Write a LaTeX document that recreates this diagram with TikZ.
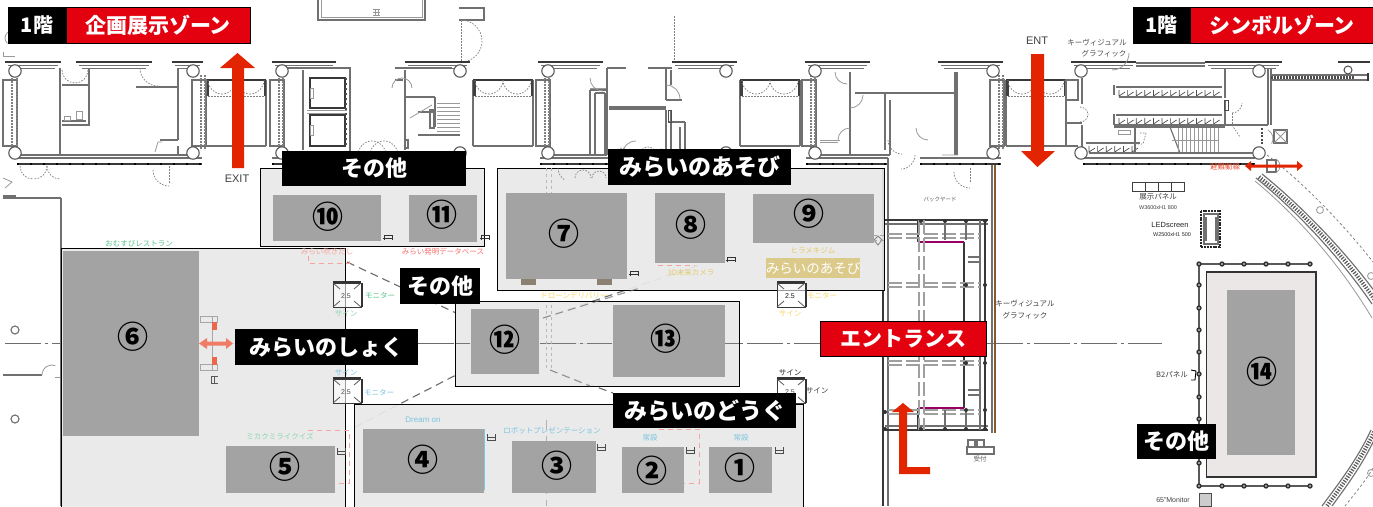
\documentclass[tikz,border=0pt]{standalone}
\usepackage{fontspec}
\newfontfamily\cjk{Noto Sans CJK JP}
\setmainfont{Liberation Sans}
\definecolor{zred}{HTML}{E3000F}
\definecolor{arr}{HTML}{E32400}
\definecolor{areaG}{HTML}{E9E9E9}
\definecolor{areaP}{HTML}{EBE7E6}
\definecolor{boxG}{HTML}{A3A3A3}
\definecolor{wallc}{HTML}{707070}
\definecolor{sgreen}{HTML}{58C48C}
\definecolor{sblue}{HTML}{7CC4E0}
\definecolor{syellow}{HTML}{F7D766}
\definecolor{sred}{HTML}{F4A5A0}
\tikzset{
 wl/.style={draw=wallc,line width=1.15pt},
 wd/.style={draw=wallc,line width=2.1pt},
 dk/.style={draw=black!78,line width=1.6pt},
 thn/.style={draw=gray!80,line width=0.8pt},
 dsh/.style={draw=gray,line width=0.7pt,dash pattern=on 1.6pt off 1.4pt},
 lng/.style={draw=gray!85!black,line width=1.1pt,dash pattern=on 8pt off 5pt},
 grd/.style={draw=gray!75,line width=1.4pt,dash pattern=on 14pt off 4pt},
 ctr/.style={draw=gray!85!black,line width=1pt,dash pattern=on 36pt off 4pt on 3pt off 4pt},
 lab/.style={fill=black,text=white,font=\cjk\bfseries\fontsize{22}{22}\selectfont,minimum height=36pt,anchor=center,inner sep=0pt,outer sep=0pt},
 num/.style={text=black,font=\cjk\bfseries\fontsize{31}{31}\selectfont,inner sep=0pt},
 area/.style={fill=areaG,fill opacity=.92,draw=black,line width=1pt},
 gbox/.style={fill=boxG,draw=none},
 tiny/.style={font=\cjk\fontsize{6.5}{7}\selectfont,inner sep=0pt},
 lbl/.style={font=\cjk\fontsize{7.5}{8}\selectfont,inner sep=0pt},
 redarrow/.style={draw=none,fill=arr},
}
\newcommand\Cap[2]{\draw[dk] (#1,62)--(#2,62); \draw[wl] (#1+3,65.5)--(#2-3,65.5);\draw[wl] (#1+6,68.5)--(#2-6,68.5);}
\newcommand\Col[2]{\draw[draw=black!65,fill=white,line width=1.1pt] (#1,#2) circle (6.2);}
\newcommand\Bay[1]{
 \draw[wd] (#1,80)--(#1,146); \draw[wd] (#1+60,80)--(#1+60,146);
 \draw[dk] (#1,80)--(#1+60,80); \draw[wl] (#1,146)--(#1+60,146);
 \fill[black!75] (#1,80) rectangle (#1+2.5,96); \fill[black!75] (#1+57.5,80) rectangle (#1+60,96);
 \draw[dsh] (#1+2,80) arc (180:90:14); \draw[dsh] (#1+30,80) arc (0:90:14);
 \draw[dsh] (#1+30,80) arc (180:90:14); \draw[dsh] (#1+58,80) arc (0:90:14);
 \draw[dsh] (#1+2,96)--(#1+58,96);
}
\newcommand\Band[1]{
 \draw[wl] (#1,80) rectangle (#1+14,146);
 \draw[dsh,line width=1.4pt] (#1+9,75)--(#1+9,150);
 \draw[dsh,line width=1.4pt] (#1+13,75)--(#1+13,150);
}
\newcommand\Low[2]{\draw[dk,line width=1.9pt] (#1,164)--(#2,164); \draw[wl] (#1,158)--(#2,158);
 \draw[black,line width=2.8pt,dash pattern=on 2pt off 11pt] (#1,164)--(#2,164);}
\newcommand\Chair[2]{\draw[gray!40!black,line width=.8pt] (#1-4,#2+3)--(#1-4,#2-2)--(#1+4,#2-2)--(#1+4,#2+3);\draw[gray!40!black,line width=.8pt] (#1-5,#2+1)--(#1+5,#2+1);}
\newcommand\Basket[2]{\draw[gray!60!black,line width=.9pt] (#1-4,#2-3)--(#1-4,#2+3)--(#1+4,#2+3)--(#1+4,#2-3);\draw[gray!60!black,line width=.9pt] (#1-4,#2)--(#1+4,#2);}
\newcommand\Sign[2]{
 \draw[draw=gray!45!black,fill=white,fill opacity=.6,line width=1pt] (#1-14,#2-12) rectangle (#1+14,#2+12);
 \draw[gray!70!black,line width=.8pt] (#1-14,#2-12)--(#1-7,#2-6) (#1+14,#2-12)--(#1+7,#2-6) (#1-14,#2+12)--(#1-7,#2+6) (#1+14,#2+12)--(#1+7,#2+6);
 \draw[black!80,line width=1.2pt] (#1+15,#2-12)--(#1+15,#2+12) (#1-14,#2-13)--(#1+14,#2-13);
}
\newcommand\Locker[3]{\foreach \i in {0,...,#3}{\draw[gray!60!black,line width=.7pt] (#1+\i*8.6,#2)--(#1+\i*8.6,#2+6)--(#1+\i*8.6+6,#2+2);}
 \draw[wd,line width=1.4pt] (#1-3,#2-3)--(#1+#3*8.6+8,#2-3); \draw[wl] (#1,#2+7)--(#1+#3*8.6+8,#2+7);}
\begin{document}
\begin{tikzpicture}[x=1pt,y=-1pt]
\useasboundingbox (0,0) rectangle (1373,506);
\fill[white] (0,0) rectangle (1373,506);
\begin{scope}
\clip (0,0) rectangle (1373,506);
% ---- top fragments
\draw[wl] (318,0)--(318,20)--(425,20)--(425,0);
\draw[thn] (321,0)--(321,17)--(422,17)--(422,0);
\draw[thn,step=3pt] (373,9) grid (380,15);
\draw[wl] (459,8)--(484,8)--(484,20)--(459,20);
\draw[dsh] (461,20)--(461,62);
\draw[dsh] (461,20) arc (-90:90:21);
\draw[dsh] (674,16)--(674,62);
\draw[thn] (12,31) arc (-90:-230:7); \draw[thn] (3,52)--(3,56)--(15,56);
% ---- capitals
\Cap{5}{61}\Cap{76}{152}\Cap{172}{203}\Cap{272}{336}\Cap{405}{470}\Cap{538}{603}\Cap{672}{737}\Cap{805}{870}\Cap{938}{1003}\Cap{1071}{1136}\Cap{1205}{1282}
\draw[dk] (1338,62)--(1370,62);
\draw[wl] (1136,63)--(1205,63); \draw[wl] (1136,66)--(1205,66);
% ---- bays
\Bay{206}\Bay{473}\Bay{740}\Bay{1006}
\Band{192}\Band{270}\Band{536}\Band{802}\Band{990}
\draw[wl] (3,80) rectangle (17,146);
\draw[dsh,line width=1.4pt] (12,75)--(12,150); \draw[dsh,line width=1.4pt] (17,75)--(17,150);
% ---- lower walls
\Low{17}{202}\Low{272}{282}\Low{540}{610}\Low{806}{888}\Low{920}{1001}\Low{1083}{1255}
\draw[wd] (15,155)--(193,155);
\draw[wd] (60,68)--(60,155);
\draw[wl] (62,85)--(89,85) (89,68)--(89,125)--(62,125) (62,121)--(86,121);
\draw[wl] (136,87)--(178,87); \draw[wd] (178,68)--(178,140);
\draw[wl] (160,140)--(178,140) (178,146)--(178,155);
\draw[dsh] (62,70) arc (180:90:13); \draw[dsh] (88,70) arc (0:90:13);
\draw[dsh] (140,68) arc (180:90:18);
\draw[thn] (64,116) rectangle (70,120); \draw[thn] (76,111) rectangle (82,119);
\draw[thn] (155,152)--(158,142)--(162,142);
\draw[dsh] (20,166) arc (180:90:13); \draw[dsh] (47,166) arc (0:90:13); \draw[dsh] (47,166) arc (180:90:13);
\draw[dsh] (153,170) arc (180:90:16); \draw[dsh] (169,166)--(169,183);
\draw[thn] (3,178)--(12,182)--(5,188);
\draw[wd] (3,198)--(61,198); \draw[wd] (61,198)--(61,506);
\draw[wl] (3,196)--(16,196);
% ---- elevators
\draw[wl] (282,68)--(350,68)--(350,152);
\draw[wl] (303,70)--(303,150);
\draw[dk] (310,78) rectangle (345,108); \draw[dk] (310,115) rectangle (345,146);
\draw[thn] (307,110)--(347,110) (307,113)--(347,113);
\draw[thn] (310,88) rectangle (313,98); \draw[thn] (310,125) rectangle (313,135);
\draw[black!70,line width=1.2pt,dash pattern=on 2pt off 3pt] (346,78)--(346,146);
\draw[dsh] (358,155) arc (180:360:14); \draw[dsh] (370,155) arc (180:360:14);
% ---- stairs
\draw[wl] (395,68)--(452,68) (405,70)--(405,150) (395,80)--(403,80);
\draw[thn] (392,88) arc (180:360:10);
\draw[wl] (405,97)--(435,97) (435,97)--(435,127) (418,135)--(460,135) (418,112)--(435,112);
\foreach \yy in {103,107,...,131}{\draw[thn] (437,\yy)--(460,\yy);}
\draw[thn] (410,118)--(432,105); \draw[wl] (430,110) rectangle (434,128);
\draw[wl] (405,140) rectangle (408,148);
% ---- room 548-670
\draw[wl] (550,155)--(607,155) (590,90)--(607,90) (590,90)--(590,155) (595,93)--(605,93) (595,93)--(595,155) (605,93)--(605,155);
\draw[wd] (607,68)--(607,155);
\draw[wl] (607,68)--(626,68) (648,68)--(672,68);
\draw[thn] (590,78) arc (180:90:13);
\draw[thn] (590,88)--(606,88);
\draw[wl] (609,107)--(666,107) (609,109)--(666,109);
\draw[wl] (666,68)--(666,100) (671,70)--(671,85) (666,110)--(666,150) (671,110)--(671,150);
\draw[wl] (666,100)--(682,100) (668,122)--(685,122) (685,122)--(685,150) (680,127)--(680,150);
\draw[thn] (666,85) arc (-90:0:14);
\draw[black!70,line width=1pt] (668,110) rectangle (671,122);
\draw[dsh] (615,155) arc (180:360:7); \draw[thn] (622,155) arc (180:270:14); \draw[dsh] (640,155) arc (180:360:8); \draw[dsh] (655,155) arc (180:360:6);
% ---- room 815-955
\draw[wl] (850,72)--(850,155) (855,93)--(955,93) (885,93)--(885,150) (890,100)--(890,155);
\draw[thn] (835,72) arc (180:90:12);
\draw[thn] (850,108) arc (90:0:13);
\draw[thn] (820,140)--(840,140) (820,142)--(838,142);\draw[thn] (838,140) arc (180:270:12);
\draw[wl] (818,155)--(890,155);
\draw[wl] (955,72)--(955,155) (957,72)--(957,155);
\draw[thn] (928,140) arc (90:180:12) (942,155)--(958,155);
\draw[dsh] (888,140) arc (180:90:14); \draw[dsh] (915,155) arc (0:90:14);\draw[wl] (888,158)--(888,175) ;
\draw[dsh] (954,172) arc (180:90:16); \draw[dsh] (970,168)--(970,183);
% ---- room 1081-1259
\draw[wl] (1066,80) rectangle (1078,100);
\draw[wd] (1082,78)--(1082,104); \draw[wd] (1067,123)--(1082,123);
\draw[wl] (1082,125)--(1082,150) (1066,146)--(1078,146);
\draw[dsh] (1080,107) arc (-90:0:8); \draw[dsh] (1080,122) arc (90:0:8);
\draw[thn] (1112,70) arc (90:0:17);
\Locker{1119}{90}{11}
\Locker{1119}{118}{11}
\Locker{1089}{146}{5}
\draw[wd,line width=1.2pt] (1114,85)--(1114,95) (1114,114)--(1114,125);
\draw[wl] (1114,125)--(1268,125) (1114,127)--(1225,127);
\draw[wl] (1135,127)--(1135,153);
\draw[thn] (1118,130) rectangle (1130,134);
\draw[dsh] (1140,133)--(1146,133)--(1143,144)--(1135,144);
\draw[wl] (1170,127)--(1180,153);
\foreach \xx in {1178,1182,...,1218}{\draw[thn] (\xx,128)--(\xx,152);}
\draw[thn] (1172,140)--(1218,140);
\draw[wl] (1225,68)--(1225,98) (1225,100)--(1225,125) (1268,68)--(1268,125) (1271,68)--(1271,125);
\draw[black!70,line width=1pt] (1224,100) rectangle (1228,110);
\draw[dsh] (1232,113) arc (90:0:10); \draw[dsh] (1232,113)--(1232,125); \draw[dsh] (1232,125)--(1240,137);
\draw[black!70,line width=2.5pt,dash pattern=on 2pt off 1.5pt] (1262,128)--(1262,145);
\draw[thn] (1268,130) arc (-60:30:10);
\draw[wl] (1274,130) rectangle (1287,143); \draw[thn] (1274,130)--(1287,143) (1287,130)--(1274,143);
\draw[wl] (1135,153)--(1255,153);
\draw[wl] (1271,75)--(1368,75) (1271,80)--(1368,80);
\draw[black!70,line width=2.5pt,dash pattern=on 1.5pt off 1.5pt] (1271,77.5)--(1355,77.5);
\draw[dk] (1368,73)--(1368,81);
% ---- columns
\foreach \xx in {15,193,282,460,548,726,815,993,1081,1259}{\Col{\xx}{71}\Col{\xx}{153}}
\draw[draw=black!70,fill=white,line width=1pt] (1348,70) circle (4);
\draw[wl] (15,330) circle (4); \draw[wl] (15,419) circle (4);
\draw[wd,line width=1.6pt] (3,375)--(42,375); \draw[thn] (42,375) arc (180:290:10); \draw[thn] (55,377)--(60,377);
% ---- centre line
\draw[ctr] (5,343.5)--(235,343.5);
\draw[ctr] (418,343.5)--(820,343.5);
\draw[ctr] (987,343.5)--(1162,343.5);
% ---- entrance frame
\draw[dk] (883,168)--(883,506); \draw[wl] (888,168)--(888,506);
\draw[draw=brown!70!black,line width=1.2pt] (995,165)--(995,433); \draw[wl] (992,165)--(992,433);
\draw[dk] (885,220)--(988,220); \draw[dk] (885,430)--(988,430); \draw[wl] (885,224)--(988,224);\draw[wl] (885,426)--(988,426);
\draw[dk] (918,220)--(918,242); \draw[dk] (918,408)--(918,430); \draw[dk] (964,242)--(964,408);
\draw[draw=violet!80!red,line width=1.2pt] (918,242)--(964,242) (918,408)--(964,408);
\draw[dk] (985,220)--(985,430); \draw[wl] (980,220)--(980,430);
\foreach \yy in {234,238,283,287,361,365,410,414}{\draw[grd] (888,\yy)--(980,\yy);}
\foreach \xx in {919,924}{\draw[grd] (\xx,220)--(\xx,430);}
\foreach \xx in {945,966}{\draw[wl] (\xx,222)--(\xx,240); \draw[wl] (\xx,410)--(\xx,428);}
\draw[wl] (968,257)--(980,257) (968,262)--(980,262) (968,390)--(980,390) (968,395)--(980,395);
\foreach \p in {(921,221),(945,221),(966,221),(985,221),(921,429),(945,429),(966,429),(985,429),(966,285),(985,285),(966,363),(985,363),(966,410),(985,410),(885,412),(885,429)}{\fill[gray!40!black] \p circle (2);}
\draw[wl] (968,440) rectangle (975,447); \draw[wl] (977,440) rectangle (984,447); \draw[wl] (967,447) rectangle (994,454);
\node[tiny,text=gray!70!black] (uketsuke) at (980,459) {受付};
\node[tiny,text=gray!70!black,font=\cjk\fontsize{5.5}{6}\selectfont] (back) at (940,199) {バックヤード};
\node[lbl,text=gray!50!black] (kv1) at (1025,304) {キーヴィジュアル};
\node[lbl,text=gray!50!black] (kv2) at (1025,316) {グラフィック};
% ---- right side items
\draw[gray!50!black,line width=.8pt] (1132,182) rectangle (1184,191);
\foreach \xx in {1145,1158,1171}{\draw[gray!50!black,line width=.8pt] (\xx,182)--(\xx,191);}
\node[lbl,text=gray!50!black] (tenji) at (1158,197) {展示パネル};
\node[text=gray!50!black,font=\fontsize{5.5}{6}\selectfont,inner sep=0pt] (tenji2) at (1158,208) {W3600xH1 800};
\node[font=\fontsize{7.5}{8}\selectfont,inner sep=0pt,text=gray!30!black] (led) at (1170,225) {LEDscreen};
\node[font=\fontsize{5.5}{6}\selectfont,inner sep=0pt,text=gray!30!black] (led2) at (1172,235) {W2500xH1 500};
\draw[draw=gray!30!black,line width=2pt,dash pattern=on 2pt off .8pt] (1201,211) rectangle (1220,247);
\draw[wl] (1204,214) rectangle (1218,244); \draw[wl] (1206,217)--(1206,241) (1216,217)--(1216,241);
% curved band
\draw[draw=gray!70!black,line width=4pt,dash pattern=on 1.2pt off 1.5pt] (1259,177) .. controls (1295,205) and (1340,250) .. (1375,300);
\draw[wl] (1256,178) .. controls (1292,207) and (1337,253) .. (1372,304);
\draw[wl] (1262,174) .. controls (1298,203) and (1343,248) .. (1378,296);
\draw[thn] (1255,181) .. controls (1290,210) and (1335,256) .. (1372,318);
\draw[gray,line width=.8pt,dash pattern=on 2.5pt off 2.5pt] (1267,155) .. controls (1300,180) and (1340,220) .. (1373,262);
\draw[draw=gray!70!black,line width=4pt,dash pattern=on 1.2pt off 1.5pt] (1374,432) .. controls (1360,462) and (1342,485) .. (1327,506);
\draw[wl] (1371,430) .. controls (1357,460) and (1339,483) .. (1322,506);
\draw[wl] (1376,436) .. controls (1362,466) and (1345,488) .. (1332,506);
\draw[gray,line width=.8pt,dash pattern=on 2.5pt off 2.5pt] (1373,468) .. controls (1365,482) and (1352,497) .. (1345,506);
\draw[thn] (1320,210) circle (3.5); \draw[thn] (1371,276) circle (3.5); \draw[thn] (1371,473) circle (3.5);
\draw[wl] (1267,160) rectangle (1276,172);
\draw[thn] (1276,159) arc (-60:60:8);
% truss
\draw[draw=gray!70!black,line width=1.2pt] (1199,264)--(1310,264) (1199,264)--(1199,486)--(1310,486);
\foreach \xx in {1199,1222,1244,1266,1288,1310}{\fill[gray!40!black] (\xx,264) circle (2.7);\fill[white] (\xx,264) circle (.8);\fill[gray!40!black] (\xx,486) circle (2.7);\fill[white] (\xx,486) circle (.8);}
\foreach \yy in {285,308,330,352,374,397,419,441,463}{\fill[gray!40!black] (1199,\yy) circle (2.7);\fill[white] (1199,\yy) circle (.8);}
\node[lbl,text=gray!50!black] (b2) at (1172,375) {B2パネル};
\draw[black,line width=.9pt] (1191,370)--(1196,371)--(1195,380)--(1191,380);
\draw[draw=gray!60!black,fill=gray!40] (1199,493) rectangle (1211,506);
\node[font=\fontsize{7}{8}\selectfont,inner sep=0pt,text=gray!50!black] (mon65) at (1173,499.5) {65"Monitor};
% dashed cone
\coordinate (cA) at (347,262); \coordinate (cB) at (456,313); \coordinate (cC) at (355,427); \coordinate (cD) at (456,375);
\coordinate (cE) at (700,265); \coordinate (cF) at (543,318); \coordinate (cG) at (550,370); \coordinate (cH) at (613,393);
\draw[lng] (cA)--(cB); \draw[lng] (cC)--(cD); \draw[lng] (cF)--(cE); \draw[lng] (cG)--(cH);
% ---- gray areas
\draw[area] (260,168) rectangle (484.5,246);
\draw[area] (497,168) rectangle (884,290);
\draw[area] (61,248) rectangle (345,520);
\draw[area] (455,301) rectangle (739,386);
\draw[area] (354,404) rectangle (803,520);
\draw[draw=black!80,fill=areaP,line width=1.2pt] (1206.5,272) rectangle (1316,477);
% show-through items in the gray areas
\draw[dashed,gray!55,line width=.8pt] (546,168)--(546,194) (551,168)--(551,194);
\draw[gray!60,dsh] (558,168) arc (180:120:14); \draw[gray!60,dsh] (575,178) arc (180:360:8); \draw[gray!60,dsh] (592,178) arc (180:360:7);
\draw[lng,opacity=.7] (543,318)--(640,288) (550,370)--(590,386);
\draw[ctr,opacity=.9] (456,343.5)--(470,343.5) (540,343.5)--(612,343.5) (725,343.5)--(739,343.5);
\draw[dashed,gray!55,line width=.8pt] (546,305)--(546,370) (551,305)--(551,370);
\draw[gray!60,line width=.8pt,dash pattern=on 10pt off 6pt] (546,420)--(546,506);
\draw[gray,line width=.8pt] (874,240)--(878,236)--(882,240)--(878,245)--cycle;
\draw[gray!70,line width=1pt,dash pattern=on 8pt off 3pt] (858,235)--(884,235) (858,240)--(884,240);
% red dashed zones
\begin{scope}[draw=sred,line width=.9pt,dash pattern=on 5pt off 4pt]
\draw (308,256)--(308,263)--(349,263)--(349,258);
\draw (308,430)--(349,430)--(349,483)--(335,483);
\draw (658,265)--(695,265);
\draw (659,429)--(699,429)--(699,483)--(684,483);
\end{scope}
% gray boxes
\draw[gbox] (273,195) rectangle (381,241);
\draw[gbox] (409,195) rectangle (477,242);
\draw[gbox] (505.7,193) rectangle (627,279);
\fill[gray!80!brown] (521,279) rectangle (536,285); \fill[gray!80!brown] (597,279) rectangle (612,285);
\draw[gbox] (654.7,193) rectangle (725,263);
\draw[gbox] (752.7,194) rectangle (874,243);
\draw[gbox] (63,251) rectangle (199,436);
\draw[gbox] (226,446) rectangle (335,493);
\draw[gbox] (362.7,429) rectangle (484,493);
\draw[sblue,line width=.6pt] (484,429)--(484,490);
\draw[gbox] (511.7,441) rectangle (596,493);
\draw[gbox] (621.7,447) rectangle (684,493);
\draw[gbox] (709.3,447) rectangle (772,493);
\draw[gbox] (470.7,309) rectangle (539.3,374);
\draw[gbox] (612.7,305) rectangle (725,377);
\draw[gbox] (1227,290) rectangle (1295,455);
% chairs and baskets
\Chair{388}{237}\Chair{485}{237}\Chair{634}{273}\Chair{731}{259}
\Basket{341}{451}\Basket{491}{437}\Basket{601}{447}\Basket{690}{450}\Basket{779}{450}
\draw[gray!70,line width=1pt] (200,316) rectangle (217,322); \draw[gray!70,line width=1pt] (200,364) rectangle (217,370);
\draw[gray!70,line width=1pt] (212,316)--(212,370);
\fill[arr!70] (212,322) rectangle (217,330); \fill[arr!70] (212,357) rectangle (217,365);
\draw[gray!70!black,line width=.9pt] (211,376)--(211,383) (211,376)--(218,376) (211,383)--(218,383) (214,376)--(214,383);
% signs
\Sign{347}{295}\Sign{347}{391}\Sign{791}{295}\Sign{791}{391}
\node[font=\fontsize{7}{8}\selectfont,inner sep=0pt,text=gray!60!black] (s1) at (346,296) {2.5};
\node[font=\fontsize{7}{8}\selectfont,inner sep=0pt,text=gray!60!black] (s2) at (346,392) {2.5};
\node[font=\fontsize{7}{8}\selectfont,inner sep=0pt,text=gray!20!black] (s3) at (790,296) {2.5};
\node[font=\fontsize{7}{8}\selectfont,inner sep=0pt,text=gray!60!black] (s4) at (790,392) {2.5};
% coloured small texts
\node[lbl,text=sgreen] (t1) at (139,244) {おむすびレストラン};
\node[lbl,text=sred] (t2) at (327,252) {みらい吹きだし};
\node[lbl,text=sred!70!red] (t3) at (443,252) {みらい発明データベース};
\node[lbl,text=sgreen] (t4) at (380,296) {モニター};
\node[lbl,text=sgreen!70!white] (t5) at (346,314) {サイン};
\node[lbl,text=sblue] (t6) at (346,373) {サイン};
\node[lbl,text=sblue] (t7) at (379,393) {モニター};
\node[lbl,text=sgreen!70!white] (t8) at (280,436) {ミカクミライクイズ};
\node[lbl,text=sblue,font=\fontsize{8}{9}\selectfont] (t9) at (423,420) {Dream on};
\node[lbl,text=sblue] (t10) at (552,431) {ロボットプレゼンテーション};
\node[lbl,text=sblue] (t11) at (650,438) {常設};
\node[lbl,text=sblue] (t12) at (741,438) {常設};
\node[lbl,text=syellow] (t13) at (574,296) {ドローンデリバリー};
\node[lbl,text=syellow!85!gray] (t14) at (691,273) {3D未来カメラ};
\node[lbl,text=syellow!85!gray] (t15) at (813,251) {ヒラメキジム};
\node[fill=syellow!70!gray!80,text=white,font=\cjk\fontsize{13.5}{14}\selectfont,inner sep=0pt,minimum width=82pt,minimum height=20pt] (t16) at (813,268) {みらいのあそび};
\node[lbl,text=syellow] (t17) at (822,296) {モニター};
\node[lbl,text=syellow] (t18) at (790,314) {サイン};
\node[lbl,text=gray!30!black] (t19) at (790,373) {サイン};
\node[lbl,text=gray!50!black] (t20) at (817,391) {サイン};
\node[lbl,text=gray!60!black] (t21) at (1097,43) {キーヴィジュアル};
\node[lbl,text=gray!60!black] (t22) at (1104,54) {グラフィック};
\node[lbl,text=arr!80!white] (t23) at (1225,167) {避難動線};
% circled numbers
\node[num] (n10) at (328,217) {⑩};
\node[num] (n11) at (442,215) {⑪};
\node[num] (n7) at (564,234) {⑦};
\node[num] (n8) at (691,225) {⑧};
\node[num] (n9) at (809,214) {⑨};
\node[num] (n6) at (133,337) {⑥};
\node[num] (n5) at (285,467) {⑤};
\node[num] (n4) at (423,460) {④};
\node[num] (n3) at (557,466) {③};
\node[num] (n2) at (652,471) {②};
\node[num] (n1) at (740,468) {①};
\node[num] (n12) at (505,340) {⑫};
\node[num] (n13) at (666,339) {⑬};
\node[num] (n14) at (1262,372) {⑭};
% arrows
\fill[redarrow] (232,168)--(232,68)--(220,68)--(237.5,53)--(255,68)--(244,68)--(244,168)--cycle;
\fill[redarrow] (1031,54)--(1044,54)--(1044,151)--(1055,151)--(1037.5,167)--(1021,151)--(1031,151)--cycle;
\fill[redarrow] (899,474)--(899,412)--(892,412)--(903,403)--(914,412)--(907,412)--(907,467)--(930,467)--(930,474)--cycle;
\fill[arr] (1245,166)--(1251,161)--(1251,164.5)--(1297,164.5)--(1297,161)--(1303,166)--(1297,171)--(1297,167.5)--(1251,167.5)--(1251,171)--cycle;
\fill[arr!60!white] (199,343.5)--(207,338)--(207,341.5)--(226,341.5)--(226,338)--(233,343.5)--(226,349)--(226,345.5)--(207,345.5)--(207,349)--cycle;
\node[font=\fontsize{11}{12}\selectfont,text=gray!50!black,fill=white,inner sep=1pt] (exit) at (237,179) {EXIT};
\node[font=\fontsize{11}{12}\selectfont,text=gray!50!black,fill=white,inner sep=1pt] (ent) at (1037,41) {ENT};
% labels
\node[lab,minimum width=184pt,minimum height=35pt] (l1) at (374,168.5) {その他};
\node[lab,minimum width=183pt] (l2) at (699.5,167) {\fontsize{23}{23}\selectfont みらいのあそび};
\node[lab,minimum width=80pt] (l3) at (440,286) {その他};
\node[lab,minimum width=183pt] (l4) at (326.5,347) {みらいのしょく};
\node[lab,minimum width=183pt,minimum height=35pt] (l5) at (704.5,410.5) {\fontsize{23}{23}\selectfont みらいのどうぐ};
\node[lab,minimum width=79pt,minimum height=35pt] (l6) at (1176.5,441.5) {その他};
\node[lab,fill=zred,draw=black,line width=1pt,minimum width=166pt,minimum height=35pt] (l7) at (903.5,339) {\fontsize{21}{21}\selectfont エントランス};
% headers
\node[fill=black,draw=black,line width=1pt,text=white,font=\cjk\bfseries\fontsize{20}{20}\selectfont,inner sep=0pt,minimum width=57pt,minimum height=36pt] (h1a) at (37,25) {1階};
\node[fill=zred,draw=black,line width=1pt,text=white,font=\cjk\bfseries\fontsize{21}{21}\selectfont,inner sep=0pt,minimum width=184pt,minimum height=36pt] (h1b) at (158,25) {企画展示ゾーン};
\node[fill=black,draw=black,line width=1pt,text=white,font=\cjk\bfseries\fontsize{20}{20}\selectfont,inner sep=0pt,minimum width=57pt,minimum height=36pt] (h2a) at (1161.5,25) {1階};
\node[fill=zred,draw=black,line width=1pt,text=white,font=\cjk\bfseries\fontsize{21}{21}\selectfont,inner sep=0pt,minimum width=184pt,minimum height=36pt] (h2b) at (1282,25) {シンボルゾーン};
\end{scope}
\end{tikzpicture}
\end{document}
